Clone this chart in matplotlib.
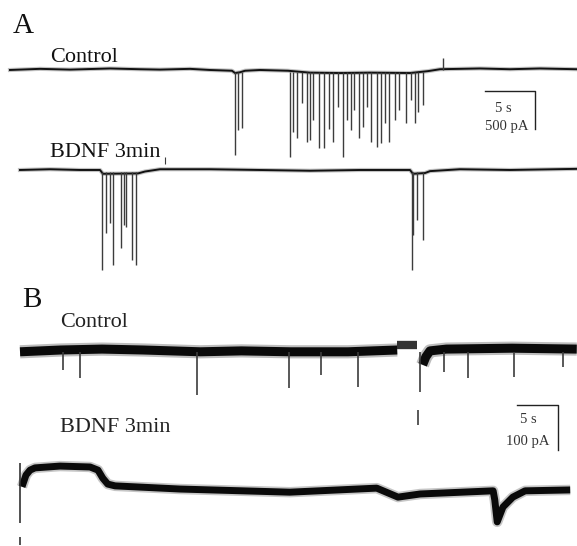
import matplotlib
matplotlib.use("Agg")
import matplotlib.pyplot as plt

# ---------------- data ----------------
# Panel A, Control: baseline knots (s, pA) and events (s, peak pA)
a_ctrl_base_t = [0, 3, 6, 10, 13, 15, 18, 20, 22.2, 22.5, 23.0, 23.5, 25, 27.8, 30, 33, 36, 40, 41.8, 43, 47, 50, 53, 56.7]
a_ctrl_base_i = [0, 15, 5, 20, 10, 5, 15, 0, -10, -40, -30, -10, 0, -10, -35, -40, -35, -40, -15, 10, 20, 10, 20, 10]
a_ctrl_ev_t = [22.5, 22.8, 23.2,
               28.0, 28.3, 28.7, 29.2, 29.7, 30.0, 30.3, 30.9, 31.4, 31.9, 32.3, 32.8,
               33.3, 33.7, 34.1, 34.4, 34.9, 35.3, 35.7, 36.1, 36.7, 37.1, 37.5, 37.9,
               38.5, 38.9, 39.6, 40.1, 40.5, 40.8, 41.3]
a_ctrl_ev_i = [-1120, -790, -760,
               -1145, -815, -895, -435, -950, -920, -660, -1025, -1025, -775, -950, -485,
               -1145, -660, -790, -525, -895, -750, -485, -950, -1015, -960, -700, -950,
               -660, -525, -700, -395, -700, -555, -460]
a_ctrl_up_t = [43.3]
a_ctrl_up_i = [160]

# Panel A, BDNF 3min
a_bdnf_base_t = [1, 4, 7, 9.0, 9.3, 12.8, 13.5, 15, 20, 25, 30, 35, 40.0, 40.3, 41.5, 42, 45, 50, 56.7]
a_bdnf_base_i = [0, 10, 0, 0, -50, -45, -20, 10, 10, 0, -10, 0, 0, -50, -40, -15, 10, 0, 15]
a_bdnf_ev_t = [9.2, 9.6, 10.0, 10.3, 11.1, 11.4, 11.6, 12.2, 12.6, 40.2, 40.3, 40.7, 41.3]
a_bdnf_ev_i = [-1315, -830, -700, -1250, -1025, -725, -750, -1185, -1250, -1315, -855, -660, -920]
a_bdnf_mark_t = [15.5]
a_bdnf_mark_i = [170]

# Panel B, Control: noisy band centre (three pieces) and events
b_ctrl_seg1_t = [0, 5, 10, 15, 22, 27, 33, 40, 46.0]
b_ctrl_seg1_i = [-4, 0, 2, 0, -4, -2, -4, -4, 0]
b_ctrl_seg2_t = [46.0, 48.4]
b_ctrl_seg2_i = [11, 11]
b_ctrl_seg3_t = [49.1, 49.5, 50.0, 52, 60, 67.9]
b_ctrl_seg3_i = [-33, -15, -2, 2, 4, 2]
b_ctrl_ev_t = [5.2, 7.3, 21.6, 32.8, 36.7, 41.2, 48.8, 51.7, 54.6, 60.2, 66.2]
b_ctrl_ev_i = [-45, -62, -100, -85, -55, -82, -93, -50, -62, -60, -38]
b_ctrl_tick_t = [48.5]
b_ctrl_tick_i = [(-133, -167)]

# Panel B, BDNF 3min
b_bdnf_t = [0.24, 0.73, 1.22, 1.83, 4.88, 8.54, 9.51, 10.1, 10.7, 11.6, 19.5, 32.9,
            43.5, 46.1, 48.8, 57.7, 57.9, 58.2, 58.9, 60.1, 61.6, 67.1]
b_bdnf_i = [-4, 22, 33, 38, 42, 40, 33, 15, 2, -2, -9, -16,
            -7, -27, -20, -13, -33, -82, -49, -27, -13, -11]
b_bdnf_edge = [(49, -84), (-115, -133)]

scale_a = (5, 500)   # s, pA
scale_b = (5, 100)   # s, pA

# ---------------- figure ----------------
W, H = 577, 546
fig = plt.figure(figsize=(W / 100, H / 100), dpi=100)
fig.patch.set_facecolor("white")


def trace_axes(xlim, ylim):
    ax = fig.add_axes([0, 0, 1, 1])
    ax.set_xlim(*xlim)
    ax.set_ylim(*ylim)
    ax.axis("off")
    ax.patch.set_alpha(0)
    return ax


base_col = "#111111"
ev_col = "#3c3c3c"

# Panel A axes: 10 px per s, 38 px per 500 pA
axA1 = trace_axes((-1.0, 56.7), (-6264, 921))
axA2 = trace_axes((-1.0, 56.7), (-4948, 2237))

for ax, bt, bi in [(axA1, a_ctrl_base_t, a_ctrl_base_i), (axA2, a_bdnf_base_t, a_bdnf_base_i)]:
    ax.plot(bt, bi, color="#555555", lw=3.0, alpha=0.35)
    ax.plot(bt, bi, color=base_col, lw=1.4)

for t, i in zip(a_ctrl_ev_t, a_ctrl_ev_i):
    axA1.vlines(t, i, -20, color=ev_col, lw=1.0)
for t, i in zip(a_ctrl_up_t, a_ctrl_up_i):
    axA1.vlines(t, 0, i, color=ev_col, lw=1.0)
# scale bar A
sx0, sy0 = 47.5, -276
axA1.plot([sx0, sx0 + scale_a[0], sx0 + scale_a[0]],
          [sy0, sy0, sy0 - scale_a[1]], color="#222222", lw=1.0)

for t, i in zip(a_bdnf_ev_t, a_bdnf_ev_i):
    axA2.vlines(t, i, -20, color=ev_col, lw=1.0)
for t, i in zip(a_bdnf_mark_t, a_bdnf_mark_i):
    axA2.vlines(t, 80, i, color=ev_col, lw=0.8)

# Panel B axes: 8.2 px per s, 45 px per 100 pA
axB1 = trace_axes((-2.44, 67.93), (-435.6, 777.8))
axB2 = trace_axes((-2.44, 67.93), (-135.6, 1077.8))

for tt, ii in [(b_ctrl_seg1_t, b_ctrl_seg1_i), (b_ctrl_seg3_t, b_ctrl_seg3_i)]:
    axB1.plot(tt, ii, color="#444444", lw=9.5, alpha=0.35, solid_capstyle="butt")
    axB1.plot(tt, ii, color="#0a0a0a", lw=6.5, solid_capstyle="butt")
axB1.plot(b_ctrl_seg2_t, b_ctrl_seg2_i, color="#333333", lw=6.0, solid_capstyle="butt")
for t, i in zip(b_ctrl_ev_t, b_ctrl_ev_i):
    axB1.vlines(t, i, -5, color=ev_col, lw=1.2)
for t, (i0, i1) in zip(b_ctrl_tick_t, b_ctrl_tick_i):
    axB1.vlines(t, i0, i1, color=ev_col, lw=1.2)
# scale bar B
bx0, by0 = 60.6, -122
axB1.plot([bx0, bx0 + scale_b[0], bx0 + scale_b[0]],
          [by0, by0, by0 - scale_b[1]], color="#222222", lw=1.0)

axB2.plot(b_bdnf_t, b_bdnf_i, color="#444444", lw=7.5, alpha=0.3, solid_capstyle="butt")
axB2.plot(b_bdnf_t, b_bdnf_i, color="#0a0a0a", lw=5.0, solid_capstyle="butt")
for i0, i1 in b_bdnf_edge:
    axB2.vlines(0, i0, i1, color="#333333", lw=1.2)

# ---------------- text ----------------
serif = "Liberation Serif"


def ptext(x, y, s, size, ha="left", color="#111111"):
    fig.text(x / W, 1 - y / H, s, fontsize=size, family=serif, ha=ha,
             va="baseline", color=color)


ptext(13, 33, "A", 21)
ptext(50, 62, "Control", 16)
ptext(50, 157, "BDNF 3min", 16)
ptext(503, 112, "5 s", 10.5, ha="center", color="#333333")
ptext(507, 130, "500 pA", 10.5, ha="center", color="#333333")

ptext(22, 307, "B", 21)
ptext(60, 327, "Control", 16, color="#222222")
ptext(60, 432, "BDNF 3min", 16, color="#222222")
ptext(528, 423, "5 s", 10.5, ha="center", color="#333333")
ptext(528, 445, "100 pA", 10.5, ha="center", color="#333333")

fig.savefig("out.png", dpi=100, facecolor="white")
